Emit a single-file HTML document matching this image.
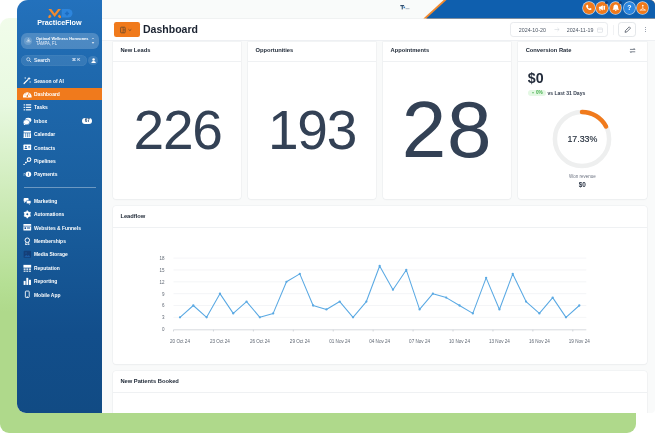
<!DOCTYPE html>
<html><head><meta charset="utf-8"><title>Dashboard</title>
<style>
*{box-sizing:border-box;margin:0;padding:0}
html,body{width:655px;height:433px;overflow:hidden;background:#fff}
body{font-family:"Liberation Sans",sans-serif;position:relative;color:#1f2937}
.abs{position:absolute}
#green{left:0;top:18px;width:636px;height:414.5px;border-radius:9px 0 9px 9px;background:linear-gradient(180deg,#f1fcea 0%,#effce8 5%,#e8f9e0 20.7%,#cceab6 44.9%,#b5df94 64.2%,#afd98b 71%,#afd98b 100%)}
#win{left:17px;top:0;width:638px;height:412.8px;border-radius:11px 5px 4px 9px;overflow:hidden;background:#f9fafa}
#side{left:0;top:0;width:84.6px;height:413px;background:linear-gradient(180deg,#2371bc 0%,#1f69ae 17%,#195e9e 50%,#124e8b 81%,#114b84 100%)}
#topbar{left:84.6px;top:0;width:554px;height:18.5px;background:#f9fbfa;border-bottom:.6px solid #f0f2f2}
#hdr{left:84.6px;top:18.5px;width:554px;height:22.8px;background:#fff;border-bottom:.8px solid #eef0f3}
.card{position:absolute;background:#fff;border-radius:3px;box-shadow:0 0 0 0.6px #eceef0,0 1px 1.5px rgba(0,0,0,.045)}
.ct{position:absolute;left:7.6px;top:5.6px;font-size:5.75px;line-height:7px;font-weight:700;color:#1b2533;white-space:nowrap}
.cd{position:absolute;left:0;right:0;top:19.7px;height:0.8px;background:#eff1f3}
.big{position:absolute;left:0;right:0;text-align:center;color:#334155;white-space:nowrap}
.mi{position:absolute;left:17.3px;font-size:5.9px;font-weight:700;color:#fff;white-space:nowrap;line-height:8px;transform:scaleX(.84);transform-origin:0 50%}
.ic{position:absolute;left:6px;width:8.6px;height:8.6px}
.tb{position:absolute;top:2.3px;width:11.6px;height:11.6px;border-radius:50%;background:#f07a1c;box-shadow:0 0 0 .7px rgba(255,255,255,.75)}
.tb svg{position:absolute;left:0;top:0;width:11.6px;height:11.6px}
.dot{position:absolute;width:3px;height:3px;border-radius:50%;background:#123f7a;top:-1px;right:-.3px}
.sm{position:absolute;white-space:nowrap}
</style></head><body>
<div id="green" class="abs"></div>
<div id="win" class="abs">
  <div id="topbar" class="abs"></div>
  <svg class="abs" style="left:0;top:0" width="638" height="19" viewBox="0 0 638 19">
    <polygon points="406.4,18.6 426.7,0 638,0 638,18.6" fill="#f28a2e"/>
    <polygon points="409.2,18.6 429.5,0 638,0 638,18.6" fill="#0f5fae"/>
    <g fill="#33506f"><rect x="383.3" y="5" width="3.8" height="1.2"/><rect x="384.7" y="5" width="1.1" height="4.4"/><rect x="386.5" y="6.6" width="1.6" height="1.6" fill="#3b82c4"/><rect x="388.5" y="8.5" width="4" height=".6" fill="#7b8da0"/></g>
  </svg>
  <div class="tb" style="left:566px"><svg viewBox="0 0 12 12"><path d="M4 3.2c.4-.4.9-.3 1.100.1l.4.900c.1.300 0 .6-.2.800l-.4.300c.3.700.9 1.300 1.600 1.600l.3-.4c.2-.2.500-.3.800-.2l.9.400c.4.200.5.700.1 1.100-.5.600-1.300.7-2 .4-1.500-.6-2.700-1.800-3.300-3.300-.2-.6-.1-1.300.7-1.700z" fill="#fff"/></svg></div>
  <div class="tb" style="left:579.3px"><svg viewBox="0 0 12 12"><path d="M3 5h1.300l2.800-1.700v5.400L4.300 7H3z M4.300 7.200l.5 1.800h-1l-.5-1.800z" fill="#fff"/><rect x="7.800" y="4" width="1.500" height="4" rx=".3" fill="#fff"/></svg><div class="dot"></div></div>
  <div class="tb" style="left:592.7px"><svg viewBox="0 0 12 12"><path d="M6 2.600c1.500 0 2.400 1.100 2.400 2.600 0 1.500.5 2.200 1 2.700H2.600c.5-.5 1-1.200 1-2.700C3.600 3.700 4.500 2.600 6 2.600z" fill="#fff"/><rect x="5.200" y="8.400" width="1.600" height="1" rx=".5" fill="#fff"/></svg><div class="dot"></div></div>
  <div class="tb" style="left:606.5px;background:#2b86e0"><div class="sm" style="left:0;width:11.6px;text-align:center;top:2.2px;font-size:7px;line-height:7px;font-weight:700;color:#fff">?</div></div>
  <div class="tb" style="left:619.6px"><svg viewBox="0 0 12 12"><g stroke="#fff" stroke-width=".7" fill="none"><path d="M6 3.500v3.200M6 6.700L3.600 8.300M6 6.700l2.400 1.600"/></g><circle cx="6" cy="3.600" r=".8" fill="#fff"/><rect x="2.800" y="8" width="6.400" height=".7" fill="#fff"/></svg></div>

  <div id="hdr" class="abs"></div>
  <!-- header controls -->
  <div class="abs" style="left:97px;top:21.700px;width:26px;height:15.700px;border-radius:2.2px;background:#f07a1c"></div>
  <svg class="abs" style="left:103px;top:26px" width="14" height="8" viewBox="0 0 14 8"><rect x=".6" y="1.200" width="4.600" height="5.600" rx=".7" fill="none" stroke="#6a4a2c" stroke-width=".8"/><path d="M3.100 1.200v5.600M3.100 3.900h2.100" stroke="#6a4a2c" stroke-width=".7" fill="none"/><path d="M8.500 3.300l1.400 1.300 1.400-1.300" stroke="#6a4a2c" stroke-width=".85" fill="none"/></svg>
  <div class="sm" style="left:126.4px;top:22.100px;font-size:11.7px;line-height:14px;font-weight:700;color:#1a2230;transform:scaleX(.9);transform-origin:0 50%">Dashboard</div>
  <div class="abs" style="left:493.200px;top:22.200px;width:98.200px;height:15.300px;border:.7px solid #e9ebee;border-radius:3.200px;background:#fff"></div>
  <div class="sm" style="left:501.8px;top:26.500px;font-size:5.300px;line-height:6px;color:#4b5563">2024-10-20</div>
  <svg class="abs" style="left:537.400px;top:27.300px" width="6" height="5" viewBox="0 0 6 5" aria-label="→"><path d="M.5 2.500h4.600M3.400 .9L5.100 2.500 3.400 4.100" fill="none" stroke="#cfd4da" stroke-width=".55"/></svg>
  <div class="sm" style="left:549.700px;top:26.500px;font-size:5.300px;line-height:6px;color:#4b5563">2024-11-19</div>
  <svg class="abs" style="left:580.100px;top:26.800px" width="6" height="6" viewBox="0 0 6 6"><rect x=".5" y="1" width="5" height="4.300" rx=".6" fill="none" stroke="#d3d7dd" stroke-width=".6"/><path d="M.5 2.300h5" stroke="#d3d7dd" stroke-width=".5"/></svg>
  <div class="abs" style="left:596.300px;top:25px;width:.6px;height:9.500px;background:#f1f2f4"></div>
  <div class="abs" style="left:601.300px;top:22.200px;width:18.200px;height:15.300px;border:.7px solid #e4e7ea;border-radius:3.200px;background:#fff"></div>
  <svg class="abs" style="left:606.700px;top:26.100px" width="7.400" height="7.400" viewBox="0 0 7 7"><path d="M1 6l.4-1.700L5 .8l1.200 1.200L2.700 5.600z" fill="none" stroke="#3f4754" stroke-width=".7" stroke-linejoin="round"/></svg>
  <div class="abs" style="left:628px;top:27.200px;width:.9px;height:.9px;background:#9ca3af;box-shadow:0 2px 0 #9ca3af,0 4px 0 #9ca3af"></div>

  <!-- cards -->
  <div class="card" style="left:95.800px;top:41.500px;width:128.300px;height:157.200px;border-radius:0 0 3px 3px"><div class="ct">New Leads</div><div class="cd"></div>
    <div class="big" style="top:53px;font-size:55px;line-height:70px;letter-spacing:-1.2px;padding-left:1.4px">226</div></div>
  <div class="card" style="left:230.900px;top:41.500px;width:128.300px;height:157.200px;border-radius:0 0 3px 3px"><div class="ct">Opportunities</div><div class="cd"></div>
    <div class="big" style="top:53px;font-size:55px;line-height:70px;letter-spacing:-1.2px;padding-left:0px">193</div></div>
  <div class="card" style="left:365.900px;top:41.500px;width:128.400px;height:157.200px;border-radius:0 0 3px 3px"><div class="ct">Appointments</div><div class="cd"></div>
    <div class="big" style="top:38.5px;font-size:80px;line-height:100px;letter-spacing:.8px">28</div></div>
  <div class="card" style="left:501.100px;top:41.500px;width:128.500px;height:157.200px;border-radius:0 0 3px 3px"><div class="ct">Conversion Rate</div><div class="cd"></div><div class="abs" style="left:.9px;top:0">
    <svg class="abs" style="left:110.500px;top:5.300px" width="7.200" height="7.200" viewBox="0 0 6 6"><path d="M.8 2h4.200l-1-1M5.200 4H1l1 1" stroke="#4b5563" stroke-width=".6" fill="none"/></svg>
    <div class="sm" style="left:8.800px;top:29.100px;font-size:14.200px;line-height:15px;font-weight:700;color:#232c3b">$0</div>
    <div class="abs" style="left:9.200px;top:48.200px;width:17.600px;height:6.800px;border-radius:3.400px;background:#e4f8e4"></div>
    <svg class="abs" style="left:13.400px;top:50.800px" width="2" height="2" viewBox="0 0 2 2"><path d="M0 .3h2L1 1.800z" fill="#46b04e"/></svg>
    <div class="sm" style="left:17px;top:48.900px;font-size:4.700px;line-height:5.400px;font-weight:700;color:#46b04e">0%</div>
    <div class="sm" style="left:28.400px;top:48.600px;font-size:5.050px;line-height:6px;font-weight:700;color:#374151">vs Last 31 Days</div>
    <svg class="abs" style="left:31.500px;top:65.300px" width="64" height="64" viewBox="-32 -32 64 64"><circle r="27.100" fill="none" stroke="#eeefef" stroke-width="4.500"/><path d="M0 -27.100 A27.100 27.100 0 0 1 24.020 -12.560" fill="none" stroke="#f07a1c" stroke-width="4.500" stroke-linecap="round"/></svg>
    <div class="sm" style="left:31.400px;width:64px;text-align:center;top:92.400px;font-size:8.850px;line-height:10px;color:#1f2937;-webkit-text-stroke:.15px #1f2937">17.33%</div>
    <div class="sm" style="left:31.400px;width:64px;text-align:center;top:132.200px;font-size:4.500px;line-height:5px;color:#6b7280">Won revenue</div>
    <div class="sm" style="left:31.400px;width:64px;text-align:center;top:139.900px;font-size:6.400px;line-height:7px;font-weight:700;color:#273142">$0</div>
  </div></div>

  <div class="card" style="left:95.800px;top:205.600px;width:533.800px;height:158px"><div class="ct" style="top:7.500px">Leadflow</div><div class="cd" style="top:21.500px"></div></div>
  <div class="card" style="left:95.800px;top:371px;width:533.800px;height:50px"><div class="ct" style="top:6.800px">New Patients Booked</div><div class="cd" style="top:20.800px"></div></div>
  <svg class="abs" style="left:0;top:0" width="638" height="412" viewBox="0 0 638 412" font-family="Liberation Sans, sans-serif">
<line x1="156.5" x2="569.3" y1="329.80" y2="329.80" stroke="#aeb4bc" stroke-width="0.5"/>
<text x="147.5" y="331.10" font-size="4.5" fill="#5f6773" text-anchor="end">0</text>
<line x1="156.5" x2="569.3" y1="317.35" y2="317.35" stroke="#e8ebef" stroke-width="0.5"/>
<text x="147.5" y="319.25" font-size="4.5" fill="#5f6773" text-anchor="end">3</text>
<line x1="156.5" x2="569.3" y1="305.50" y2="305.50" stroke="#e8ebef" stroke-width="0.5"/>
<text x="147.5" y="307.40" font-size="4.5" fill="#5f6773" text-anchor="end">6</text>
<line x1="156.5" x2="569.3" y1="293.65" y2="293.65" stroke="#e8ebef" stroke-width="0.5"/>
<text x="147.5" y="295.55" font-size="4.5" fill="#5f6773" text-anchor="end">9</text>
<line x1="156.5" x2="569.3" y1="281.80" y2="281.80" stroke="#e8ebef" stroke-width="0.5"/>
<text x="147.5" y="283.70" font-size="4.5" fill="#5f6773" text-anchor="end">12</text>
<line x1="156.5" x2="569.3" y1="269.95" y2="269.95" stroke="#e8ebef" stroke-width="0.5"/>
<text x="147.5" y="271.85" font-size="4.5" fill="#5f6773" text-anchor="end">15</text>
<line x1="156.5" x2="569.3" y1="258.10" y2="258.10" stroke="#e8ebef" stroke-width="0.5"/>
<text x="147.5" y="260.00" font-size="4.5" fill="#5f6773" text-anchor="end">18</text>
<polyline points="163.00,317.35 176.31,305.50 189.62,317.35 202.93,293.65 216.24,313.40 229.55,301.55 242.86,317.35 256.17,313.40 269.48,281.80 282.79,273.90 296.10,305.50 309.41,309.45 322.72,301.55 336.03,317.35 349.34,301.55 362.65,266.00 375.96,289.70 389.27,269.95 402.58,309.45 415.89,293.65 429.20,297.60 442.51,305.50 455.82,313.40 469.13,277.85 482.44,309.45 495.75,273.90 509.06,301.55 522.37,313.40 535.68,297.60 548.99,317.35 562.30,305.50" fill="none" stroke="#5aa9e3" stroke-width="1.05" stroke-linejoin="round"/>
<circle cx="163.00" cy="317.35" r="1.15" fill="#5aa9e3"/>
<circle cx="176.31" cy="305.50" r="1.15" fill="#5aa9e3"/>
<circle cx="189.62" cy="317.35" r="1.15" fill="#5aa9e3"/>
<circle cx="202.93" cy="293.65" r="1.15" fill="#5aa9e3"/>
<circle cx="216.24" cy="313.40" r="1.15" fill="#5aa9e3"/>
<circle cx="229.55" cy="301.55" r="1.15" fill="#5aa9e3"/>
<circle cx="242.86" cy="317.35" r="1.15" fill="#5aa9e3"/>
<circle cx="256.17" cy="313.40" r="1.15" fill="#5aa9e3"/>
<circle cx="269.48" cy="281.80" r="1.15" fill="#5aa9e3"/>
<circle cx="282.79" cy="273.90" r="1.15" fill="#5aa9e3"/>
<circle cx="296.10" cy="305.50" r="1.15" fill="#5aa9e3"/>
<circle cx="309.41" cy="309.45" r="1.15" fill="#5aa9e3"/>
<circle cx="322.72" cy="301.55" r="1.15" fill="#5aa9e3"/>
<circle cx="336.03" cy="317.35" r="1.15" fill="#5aa9e3"/>
<circle cx="349.34" cy="301.55" r="1.15" fill="#5aa9e3"/>
<circle cx="362.65" cy="266.00" r="1.15" fill="#5aa9e3"/>
<circle cx="375.96" cy="289.70" r="1.15" fill="#5aa9e3"/>
<circle cx="389.27" cy="269.95" r="1.15" fill="#5aa9e3"/>
<circle cx="402.58" cy="309.45" r="1.15" fill="#5aa9e3"/>
<circle cx="415.89" cy="293.65" r="1.15" fill="#5aa9e3"/>
<circle cx="429.20" cy="297.60" r="1.15" fill="#5aa9e3"/>
<circle cx="442.51" cy="305.50" r="1.15" fill="#5aa9e3"/>
<circle cx="455.82" cy="313.40" r="1.15" fill="#5aa9e3"/>
<circle cx="469.13" cy="277.85" r="1.15" fill="#5aa9e3"/>
<circle cx="482.44" cy="309.45" r="1.15" fill="#5aa9e3"/>
<circle cx="495.75" cy="273.90" r="1.15" fill="#5aa9e3"/>
<circle cx="509.06" cy="301.55" r="1.15" fill="#5aa9e3"/>
<circle cx="522.37" cy="313.40" r="1.15" fill="#5aa9e3"/>
<circle cx="535.68" cy="297.60" r="1.15" fill="#5aa9e3"/>
<circle cx="548.99" cy="317.35" r="1.15" fill="#5aa9e3"/>
<circle cx="562.30" cy="305.50" r="1.15" fill="#5aa9e3"/>
<line x1="156.50" x2="156.50" y1="329.80" y2="331.50" stroke="#aeb4bc" stroke-width="0.5"/>
<text x="163.00" y="343.2" font-size="4.6" fill="#5f6773" text-anchor="middle">20 Oct 24</text>
<line x1="196.43" x2="196.43" y1="329.80" y2="331.50" stroke="#aeb4bc" stroke-width="0.5"/>
<text x="202.93" y="343.2" font-size="4.6" fill="#5f6773" text-anchor="middle">23 Oct 24</text>
<line x1="236.36" x2="236.36" y1="329.80" y2="331.50" stroke="#aeb4bc" stroke-width="0.5"/>
<text x="242.86" y="343.2" font-size="4.6" fill="#5f6773" text-anchor="middle">26 Oct 24</text>
<line x1="276.29" x2="276.29" y1="329.80" y2="331.50" stroke="#aeb4bc" stroke-width="0.5"/>
<text x="282.79" y="343.2" font-size="4.6" fill="#5f6773" text-anchor="middle">29 Oct 24</text>
<line x1="316.22" x2="316.22" y1="329.80" y2="331.50" stroke="#aeb4bc" stroke-width="0.5"/>
<text x="322.72" y="343.2" font-size="4.6" fill="#5f6773" text-anchor="middle">01 Nov 24</text>
<line x1="356.15" x2="356.15" y1="329.80" y2="331.50" stroke="#aeb4bc" stroke-width="0.5"/>
<text x="362.65" y="343.2" font-size="4.6" fill="#5f6773" text-anchor="middle">04 Nov 24</text>
<line x1="396.08" x2="396.08" y1="329.80" y2="331.50" stroke="#aeb4bc" stroke-width="0.5"/>
<text x="402.58" y="343.2" font-size="4.6" fill="#5f6773" text-anchor="middle">07 Nov 24</text>
<line x1="436.01" x2="436.01" y1="329.80" y2="331.50" stroke="#aeb4bc" stroke-width="0.5"/>
<text x="442.51" y="343.2" font-size="4.6" fill="#5f6773" text-anchor="middle">10 Nov 24</text>
<line x1="475.94" x2="475.94" y1="329.80" y2="331.50" stroke="#aeb4bc" stroke-width="0.5"/>
<text x="482.44" y="343.2" font-size="4.6" fill="#5f6773" text-anchor="middle">13 Nov 24</text>
<line x1="515.87" x2="515.87" y1="329.80" y2="331.50" stroke="#aeb4bc" stroke-width="0.5"/>
<text x="522.37" y="343.2" font-size="4.6" fill="#5f6773" text-anchor="middle">16 Nov 24</text>
<line x1="555.80" x2="555.80" y1="329.80" y2="331.50" stroke="#aeb4bc" stroke-width="0.5"/>
<text x="562.30" y="343.2" font-size="4.6" fill="#5f6773" text-anchor="middle">19 Nov 24</text>
</svg>

  <div id="side" class="abs">
    <!-- logo -->
    <svg class="abs" style="left:30px;top:8.500px" width="27" height="11" viewBox="0 0 27 11">
      <path d="M1.400 .1H4.300L7.650 4.500 11 .1H13.900L7.650 8.100Z" fill="#f28a2e"/>
      <path d="M1.400 8.900V7.100L3.100 5.600 4.500 7.200 3.100 8.900Z M13.900 8.900V7.100L12.200 5.600 10.800 7.200 12.200 8.900Z" fill="#f28a2e"/>
      <path d="M14.700 .1h6.500a4.250 4.250 0 0 1 0 8.500h-6.500z" fill="#2d85dc"/>
      <path d="M19.200 2.400h1.600v1.300h1.300v1.600h-1.300v1.300h-1.600V5.300h-1.300V3.700h1.300z" fill="#1d6cc0"/>
    </svg>
    <div class="sm" style="left:0;width:84.600px;text-align:center;top:18.400px;font-size:7.200px;line-height:9px;font-weight:700;color:#fff;padding-left:.2px">PracticeFlow</div>
    <!-- location -->
    <div class="abs" style="left:3.600px;top:32.900px;width:78.400px;height:15.900px;border-radius:5.800px;background:rgba(255,255,255,.2)"></div>
    <div class="abs" style="left:7.300px;top:36.700px;width:8px;height:8px;border-radius:50%;background:rgba(255,255,255,.16)"></div>
    <svg class="abs" style="left:8.800px;top:38.200px" width="5" height="5" viewBox="0 0 5 5"><path d="M2.500 .5L4.300 3.900H.7z" fill="none" stroke="#dbe8f6" stroke-width=".5"/><circle cx="2.500" cy="2.700" r=".6" fill="#dbe8f6"/></svg>
    <div class="sm" style="left:19.400px;top:35.900px;font-size:4.300px;line-height:5.400px;font-weight:700;color:#fff;transform:scaleX(.9);transform-origin:0 50%">Optimal Wellness Hormones</div>
    <div class="sm" style="left:19.400px;top:40.900px;font-size:4.500px;line-height:5.600px;color:#e6eef8;transform:scaleX(.93);transform-origin:0 50%">TAMPA, FL</div>
    <svg class="abs" style="left:74.200px;top:37px" width="4" height="8" viewBox="0 0 4 8"><path d="M.9 2.100L2 1 3.100 2.100" stroke="#dbe8f6" stroke-width=".6" fill="none"/><path d="M.7 5.300h2.600L2 6.800z" fill="#fff"/></svg>
    <!-- search -->
    <div class="abs" style="left:4.300px;top:54.700px;width:65.700px;height:11px;border-radius:5.500px;background:rgba(255,255,255,.1);box-shadow:inset 0 0 0 .5px rgba(255,255,255,.08)"></div>
    <svg class="abs" style="left:9.200px;top:57.200px" width="6" height="6" viewBox="0 0 6 6"><circle cx="2.300" cy="2.300" r="1.600" fill="none" stroke="#e2ecf8" stroke-width=".7"/><path d="M3.500 3.500L5.200 5.200" stroke="#e2ecf8" stroke-width=".8"/></svg>
    <div class="sm" style="left:17px;top:56.800px;font-size:5.100px;line-height:7px;color:#e4eefa;-webkit-text-stroke:.15px #e4eefa">Search</div>
    <div class="sm" style="left:55px;top:57px;font-size:4.300px;line-height:6.500px;color:#d4e3f5;font-weight:700">⌘ K</div>
    <div class="abs" style="left:71.300px;top:55.600px;width:9.600px;height:9.600px;border-radius:50%;background:rgba(255,255,255,.13)"></div>
    <svg class="abs" style="left:73.500px;top:57.500px" width="5.200" height="5.700" viewBox="0 0 5 5.500"><circle cx="2.500" cy="1.500" r="1.200" fill="#fff"/><path d="M.3 5.200c0-1.600.9-2.400 2.200-2.400s2.200.8 2.200 2.400z" fill="#fff"/></svg>
    <!-- active -->
    <div class="abs" style="left:0;top:88.200px;width:84.600px;height:11.400px;background:#f07a1c"></div>
    <div class="abs" style="left:6.500px;top:187.200px;width:72.300px;height:.6px;background:rgba(255,255,255,.36)"></div>
    <svg class="ic" style="top:76.3px" viewBox="0 0 8 8"><path d="M1 7 L4.6 3.4" stroke="#fff" stroke-width="1.1" stroke-linecap="round"/><path d="M5.6 0.6 l.5 1.2 1.2.5 -1.2.5 -.5 1.2 -.5-1.2 -1.2-.5 1.2-.5z M2 .8 l.3.8 .8.3 -.8.3 -.3.8 -.3-.8 -.8-.3 .8-.3z M6.6 4.6 l.3.7 .7.3 -.7.3 -.3.7 -.3-.7 -.7-.3 .7-.3z" fill="#fff"/></svg><div class="mi" style="top:76.5px">Season of AI</div>
<svg class="ic" style="top:89.7px" viewBox="0 0 8 8"><path d="M0 7 A4.05 4.3 0 1 1 8 7 Z" fill="#fff"/><path d="M4 5.6 L5.6 2.8" stroke="#f07a1c" stroke-width=".7"/><circle cx="4" cy="5.6" r=".8" fill="#f07a1c"/><circle cx="1.9" cy="4.6" r=".45" fill="#f07a1c"/><circle cx="2.7" cy="3.1" r=".45" fill="#f07a1c"/><circle cx="6.2" cy="4.6" r=".45" fill="#f07a1c"/></svg><div class="mi" style="top:89.9px">Dashboard</div>
<svg class="ic" style="top:103.1px" viewBox="0 0 8 8"><g fill="#fff"><rect x="0.6" y="1.2" width="1.2" height="1.1"/><rect x="2.6" y="1.2" width="5" height="1.1"/><rect x="0.6" y="3.5" width="1.2" height="1.1"/><rect x="2.6" y="3.5" width="5" height="1.1"/><rect x="0.6" y="5.8" width="1.2" height="1.1"/><rect x="2.6" y="5.8" width="5" height="1.1"/></g></svg><div class="mi" style="top:103.3px">Tasks</div>
<svg class="ic" style="top:116.5px" viewBox="0 0 8 8"><ellipse cx="4.9" cy="2.9" rx="2.9" ry="2.3" fill="#fff"/><ellipse cx="3.2" cy="4.8" rx="3" ry="2.4" fill="#fff" stroke="#1b63ae" stroke-width=".5"/><path d="M1 6.2 L.6 7.8 2.6 6.9z" fill="#fff"/></svg><div class="mi" style="top:116.7px">Inbox</div>
<svg class="ic" style="top:129.9px" viewBox="0 0 8 8"><g fill="#fff"><rect x="0.6" y="0.8" width="6.8" height="1.6"/><rect x="0.6" y="3" width="1.7" height="4.4"/><rect x="2.9" y="3" width="1.0" height="4.4"/><rect x="4.4" y="3" width="1.0" height="4.4"/><rect x="6" y="3" width="1.4" height="4.4"/><rect x="0.6" y="6.6" width="6.8" height=".8"/></g></svg><div class="mi" style="top:130.1px">Calendar</div>
<svg class="ic" style="top:143.3px" viewBox="0 0 8 8"><rect x=".4" y="1.4" width="7.2" height="5.2" rx=".6" fill="#fff"/><circle cx="2.7" cy="3.3" r=".8" fill="#1a60aa"/><path d="M1.4 5.6 a1.3 1.1 0 0 1 2.6 0z" fill="#1a60aa"/><rect x="4.8" y="2.8" width="1.8" height=".6" fill="#1a60aa"/><rect x="4.8" y="4.2" width="1.8" height=".6" fill="#1a60aa"/></svg><div class="mi" style="top:143.5px">Contacts</div>
<svg class="ic" style="top:156.7px" viewBox="0 0 8 8"><circle cx="5.6" cy="2.4" r="1.7" fill="none" stroke="#fff" stroke-width="1"/><path d="M4.4 3.8 L3 5.2" stroke="#fff" stroke-width=".9"/><circle cx="2.6" cy="5.2" r=".8" fill="#fff"/><circle cx="1" cy="7" r=".7" fill="#fff"/></svg><div class="mi" style="top:156.9px">Pipelines</div>
<svg class="ic" style="top:170.1px" viewBox="0 0 8 8"><circle cx="5" cy="4" r="2.6" fill="#fff"/><rect x="4.7" y="2.6" width=".6" height="2.8" fill="#1a5da5"/><rect x="0.6" y="3" width="1.2" height=".5" fill="#fff"/><rect x="0.2" y="4.4" width="1.4" height=".5" fill="#fff"/></svg><div class="mi" style="top:170.3px">Payments</div>
<svg class="ic" style="top:196.6px" viewBox="0 0 8 8"><rect x=".6" y="1" width="4.6" height="3.4" rx=".8" fill="#fff"/><path d="M1.2 4.2 L1 5.6 2.6 4.4z" fill="#fff"/><rect x="3.2" y="3.2" width="4.2" height="3" rx=".8" fill="#fff" stroke="#18599f" stroke-width=".5"/><path d="M6 6 L6.6 7.4 5 6.2z" fill="#fff"/></svg><div class="mi" style="top:196.8px">Marketing</div>
<svg class="ic" style="top:210.0px" viewBox="0 0 8 8"><circle cx="4" cy="4" r="1.9" fill="none" stroke="#fff" stroke-width="2"/><g stroke="#fff" stroke-width="1.3"><path d="M4 .4v1.2M4 6.4v1.2M.9 2.2l1 .6M6.1 5.2l1 .6M.9 5.8l1-.6M6.1 2.8l1-.6"/></g></svg><div class="mi" style="top:210.2px">Automations</div>
<svg class="ic" style="top:223.4px" viewBox="0 0 8 8"><rect x=".4" y="1" width="7.2" height="6" rx=".5" fill="#fff"/><rect x=".4" y="2.6" width="7.2" height=".6" fill="#17559a"/><rect x="1.4" y="4" width="1.4" height="1.6" fill="#17559a"/><rect x="3.6" y="4.1" width="3" height=".5" fill="#17559a"/><rect x="3.6" y="5.1" width="3" height=".5" fill="#17559a"/></svg><div class="mi" style="top:223.6px">Websites &amp; Funnels</div>
<svg class="ic" style="top:236.8px" viewBox="0 0 8 8"><circle cx="4" cy="3" r="2.1" fill="none" stroke="#fff" stroke-width=".9"/><path d="M2.8 4.8 L2.4 7.6 4 6.6 5.6 7.6 5.2 4.8" fill="none" stroke="#fff" stroke-width=".8"/></svg><div class="mi" style="top:237.0px">Memberships</div>
<svg class="ic" style="top:250.2px" viewBox="0 0 8 8"><rect x=".6" y=".8" width="6.8" height="6.4" rx=".8" fill="#143f78"/><circle cx="2.8" cy="2.8" r=".6" fill="#1b5aa2"/><path d="M1.2 6.4 L3 4.4 4.2 5.6 5.4 4.6 6.8 6.4z" fill="#1b5aa2"/></svg><div class="mi" style="top:250.4px">Media Storage</div>
<svg class="ic" style="top:263.6px" viewBox="0 0 8 8"><rect x=".4" y=".8" width="7.2" height="2.6" fill="#fff"/><rect x=".6" y="4.2" width="1.8" height="1.2" fill="#fff"/><rect x="3.1" y="4.2" width="1.8" height="1.2" fill="#fff"/><rect x="5.6" y="4.2" width="1.8" height="1.2" fill="#fff"/><rect x=".6" y="6.2" width="1.8" height="1" fill="#fff"/><rect x="3.1" y="6.2" width="1.8" height="1" fill="#fff"/><rect x="5.6" y="6.2" width="1.8" height="1" fill="#fff"/></svg><div class="mi" style="top:263.8px">Reputation</div>
<svg class="ic" style="top:277.0px" viewBox="0 0 8 8"><rect x=".6" y="3.6" width="1.8" height="3.8" fill="#fff"/><rect x="3.1" y=".8" width="1.8" height="6.6" fill="#fff"/><rect x="5.6" y="2.6" width="1.8" height="4.8" fill="#fff"/></svg><div class="mi" style="top:277.2px">Reporting</div>
<svg class="ic" style="top:290.4px" viewBox="0 0 8 8"><rect x="2.2" y="1" width="3.6" height="6" rx=".7" fill="none" stroke="#fff" stroke-width=".8"/><rect x="3.4" y="5.8" width="1.2" height=".5" fill="#fff"/></svg><div class="mi" style="top:290.6px">Mobile App</div>
    <div class="abs" style="left:65.300px;top:117.900px;width:10px;height:6.200px;border-radius:3.100px;background:#fff"></div>
    <div class="sm" style="left:65.300px;width:10px;text-align:center;top:118.400px;font-size:4.700px;line-height:5.200px;font-weight:700;color:#17406f">67</div>
  </div>
</div>
</body></html>
